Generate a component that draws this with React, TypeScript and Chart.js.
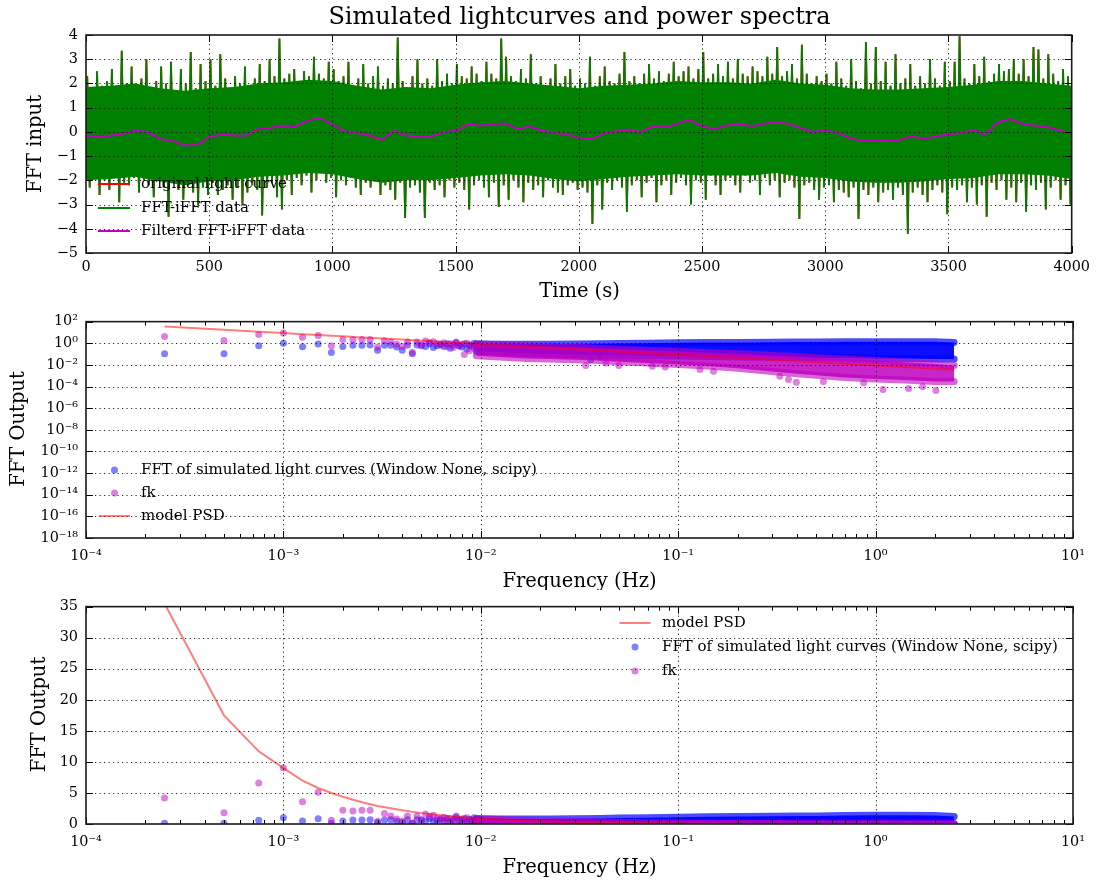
import React, { useEffect, useRef } from 'react';
import { Chart, registerables } from 'chart.js';

Chart.register(...registerables);

const FONT = "'DejaVu Serif', 'Liberation Serif', serif";
Chart.defaults.font.family = FONT;
Chart.defaults.color = '#000';

// ---------------- top panel: light curves ----------------
const BIN_SECONDS = 20; // each bin holds one local maximum and one local minimum
const LC_UPPER = [
  2.3, 1.8, 2.5, 1.9, 2.1, 2.6, 1.7, 3.35, 2.0, 2.7,
  1.9, 2.2, 3.0, 1.8, 2.1, 2.7, 2.0, 2.9, 1.7, 2.6,
  2.0, 3.3, 1.8, 2.8, 2.1, 3.0, 1.9, 3.2, 2.2, 1.8,
  2.3, 2.0, 2.7, 1.9, 2.2, 2.8, 2.1, 3.0, 2.3, 3.85,
  2.2, 2.4, 2.6, 2.0, 2.5, 2.3, 3.1, 2.4, 2.2, 2.9,
  2.6, 2.1, 2.3, 2.9, 1.9, 2.2, 2.8, 2.0, 2.3, 2.7,
  1.9, 2.2, 2.0, 3.9, 2.1, 1.8, 2.3, 3.0, 2.0, 2.2,
  1.9, 3.0, 2.1, 2.4, 2.0, 2.8, 2.3, 2.2, 2.7, 2.4,
  2.1, 2.9, 2.4, 2.2, 3.85, 3.1, 2.3, 2.1, 2.6, 2.2,
  3.2, 2.0, 2.3, 1.9, 2.2, 2.8, 2.0, 2.3, 2.6, 1.9,
  2.2, 2.0, 3.1, 1.9, 2.3, 2.7, 2.1, 2.0, 2.4, 3.3,
  2.1, 2.3, 2.0, 2.4, 2.8, 2.2, 2.5, 2.1, 2.4, 2.9,
  2.3, 2.5, 2.7, 2.2, 2.6, 3.3, 2.2, 2.4, 2.8, 2.3,
  2.9, 2.2, 3.0, 2.4, 2.3, 2.7, 2.5, 2.3, 3.1, 2.4,
  3.5, 2.3, 2.5, 2.8, 2.2, 3.6, 2.4, 2.0, 2.3, 2.1,
  2.4, 2.0, 2.9, 2.2, 1.9, 3.0, 2.1, 1.8, 3.7, 2.0,
  3.5, 2.1, 2.9, 1.9, 3.2, 2.0, 2.2, 2.8, 1.9, 2.3,
  2.0, 3.0, 2.2, 1.9, 2.9, 2.1, 2.9, 3.95, 2.2, 2.0,
  2.8, 2.3, 3.1, 2.1, 2.4, 2.8, 2.5, 2.6, 3.0, 2.4,
  3.0, 2.3, 3.5, 3.4, 2.2, 3.2, 2.4, 2.1, 2.6, 2.3,
];
const LC_LOWER = [
  -2.3, -1.9, -2.6, -2.0, -2.4, -1.8, -2.9, -2.1, -2.2, -1.9,
  -2.5, -2.0, -2.2, -2.7, -1.9, -2.3, -3.5, -2.1, -2.4, -2.8,
  -2.2, -2.5, -3.0, -2.3, -2.6, -2.1, -2.6, -2.4, -2.2, -2.8,
  -2.3, -3.0, -2.5, -2.2, -2.4, -3.45, -2.3, -2.1, -2.7, -3.2,
  -2.0, -2.6, -1.9, -2.2, -1.8, -2.5, -2.0, -1.7, -2.1, -1.9,
  -2.7, -2.0, -2.2, -1.9, -2.3, -2.6, -2.1, -2.3, -2.0, -2.6,
  -2.2, -2.4, -2.8, -2.1, -3.55, -2.3, -2.2, -2.5, -3.55, -2.1,
  -2.4, -2.2, -2.7, -2.0, -2.3, -2.1, -2.4, -3.2, -2.2, -2.0,
  -2.3, -2.7, -2.1, -3.1, -2.2, -2.8, -2.0, -2.3, -2.9, -2.1,
  -2.4, -2.2, -2.7, -2.0, -2.3, -2.5, -2.6, -2.2, -2.1, -2.4,
  -2.3, -2.5, -3.8, -2.2, -3.2, -2.1, -2.4, -2.0, -2.3, -3.3,
  -2.2, -2.0, -2.7, -2.1, -1.9, -2.9, -2.2, -2.0, -2.6, -2.1,
  -1.9, -2.2, -3.0, -2.0, -2.1, -2.8, -1.8, -2.2, -2.6, -2.0,
  -1.9, -2.2, -2.5, -1.8, -2.1, -2.0, -2.6, -1.9, -2.2, -2.0,
  -2.7, -2.1, -2.0, -2.3, -3.6, -2.2, -2.1, -2.4, -2.8, -2.3,
  -2.2, -2.9, -2.4, -2.5, -2.7, -2.3, -3.6, -2.4, -2.6, -2.3,
  -2.9, -2.5, -2.4, -2.8, -2.3, -2.6, -4.2, -2.5, -2.3, -2.6,
  -2.9, -2.4, -2.2, -2.5, -3.4, -2.3, -2.4, -2.2, -2.9, -2.3,
  -3.0, -2.2, -3.5, -2.1, -2.4, -2.0, -2.8, -2.3, -2.9, -2.1,
  -3.3, -2.2, -2.4, -2.1, -3.2, -2.3, -2.0, -2.8, -2.2, -3.0,
];
// edge of the solid (densely sampled) core of the light curve, every 100 s
const CORE_STEP = 100;
const CORE_UP = [1.85, 1.9, 2.0, 1.8, 1.7, 1.8, 1.85, 2.0, 2.05, 2.15, 2.1, 1.9, 1.75, 1.85, 1.8, 1.95, 2.05, 2.1, 2.0, 1.9,
  1.8, 1.9, 1.95, 2.0, 2.1, 2.05, 2.05, 2.0, 2.15, 2.0, 1.95, 1.8, 1.75, 1.75, 1.8, 1.85, 1.95, 2.1, 2.1, 2.0, 1.9];
const CORE_LO = [-2.0, -1.95, -1.85, -2.05, -2.2, -2.05, -2.0, -1.85, -1.8, -1.7, -1.75, -1.95, -2.1, -2.0, -2.0, -1.9, -1.8, -1.75, -1.8, -1.95,
  -2.05, -1.95, -1.85, -1.8, -1.75, -1.8, -1.8, -1.8, -1.7, -1.85, -1.9, -2.05, -2.1, -2.1, -2.05, -1.95, -1.9, -1.75, -1.75, -1.8, -1.95];
const FILT_STEP = 50;
const FILTERED = [
  -0.15, -0.22, -0.15, -0.08, 0.05, 0.0, -0.29, -0.36, -0.56, -0.54,
  -0.22, -0.11, -0.15, -0.15, 0.12, 0.17, 0.26, 0.22, 0.47, 0.58,
  0.3, 0.03, -0.05, -0.15, -0.33, 0.05, -0.15, -0.22, -0.19, -0.01,
  0.05, 0.3, 0.26, 0.3, 0.36, 0.12, 0.22, 0.05, -0.04, -0.1,
  -0.25, -0.3, -0.07, 0.03, 0.1, -0.01, 0.23, 0.2, 0.34, 0.5,
  0.23, 0.12, 0.26, 0.34, 0.23, 0.34, 0.4, 0.34, 0.16, 0.0,
  0.07, -0.04, -0.25, -0.38, -0.38, -0.38, -0.34, -0.18, -0.29, -0.18,
  -0.11, -0.04, 0.07, -0.11, 0.4, 0.53, 0.34, 0.26, 0.2, 0.07,
  -0.07,
];
const TIME_TICKS = [0, 500, 1000, 1500, 2000, 2500, 3000, 3500, 4000];
const INPUT_TICKS = [-5, -4, -3, -2, -1, 0, 1, 2, 3, 4];

// ---------------- spectra ----------------
const LOW_FREQ = [0.00025, 0.0005, 0.00075, 0.001, 0.00125, 0.0015, 0.00175, 0.002, 0.00225, 0.0025,
  0.00275, 0.003, 0.00325, 0.0035, 0.00375, 0.004, 0.00425, 0.0045, 0.00475, 0.005,
  0.00525, 0.0055, 0.00575, 0.006, 0.00625, 0.0065, 0.00675, 0.007, 0.00725, 0.0075,
  0.00775, 0.008, 0.00825, 0.0085, 0.00875, 0.009, 0.00925, 0.0095, 0.00975, 0.01];
const FFT_LOW = [0.11, 0.11, 0.6, 1.0, 0.48, 0.85, 0.14, 0.5, 0.65, 0.65,
  0.7, 0.23, 0.65, 0.67, 0.45, 0.23, 0.67, 0.11, 0.7, 0.67,
  0.5, 0.9, 0.4, 0.6, 0.8, 0.5, 0.9, 0.35, 0.7, 1.1,
  0.6, 0.45, 0.9, 0.3, 0.75, 0.6, 1.0, 0.5, 0.8, 0.4];
const FK_LOW = [4.2, 1.8, 6.6, 9.0, 3.6, 5.1, 0.6, 2.2, 2.1, 2.2,
  2.2, 0.45, 1.7, 1.3, 0.8, 0.5, 1.3, 0.15, 1.3, 0.6,
  1.6, 1.2, 1.4, 0.9, 0.7, 1.1, 0.5, 0.9, 0.4, 1.3,
  0.6, 0.8, 0.09, 1.0, 0.2, 0.55, 0.35, 0.7, 0.45, 0.6];
const FK_OUT_FREQ = [0.034, 0.043, 0.05, 0.074, 0.086, 0.129, 0.151, 0.327, 0.362, 0.397, 0.544, 0.87, 1.09, 1.47, 1.73, 2.02];
const FK_OUT_VAL = [0.009, 0.015, 0.009, 0.0074, 0.0063, 0.0037, 0.0026, 0.0009, 0.00045, 0.00025, 0.0003, 0.00022, 0.000054, 0.000066, 0.0001, 0.000044];
const FFT_OUT_FREQ = [0.036, 0.04];
const FFT_OUT_VAL = [0.03, 0.05];
// dense high-frequency region: envelope of the overlapping markers
const BAND_FREQ = [0.0095, 0.013, 0.017, 0.022, 0.03, 0.04, 0.05, 0.07, 0.1, 0.14, 0.2, 0.3, 0.4, 0.5, 0.7, 1.0, 1.4, 2.0, 2.5];
const FFT_TOP = [0.85, 0.8, 0.8, 0.8, 0.85, 0.9, 0.95, 1.0, 1.1, 1.15, 1.2, 1.25, 1.3, 1.3, 1.35, 1.4, 1.4, 1.35, 1.2];
const FFT_BOT = [0.18, 0.15, 0.12, 0.1, 0.09, 0.08, 0.075, 0.07, 0.065, 0.06, 0.055, 0.05, 0.05, 0.045, 0.045, 0.04, 0.04, 0.035, 0.035];
const FK_TOP = [0.85, 0.7, 0.6, 0.5, 0.42, 0.33, 0.28, 0.22, 0.17, 0.13, 0.11, 0.075, 0.06, 0.045, 0.035, 0.025, 0.018, 0.012, 0.009];
const FK_BOT = [0.07, 0.05, 0.04, 0.035, 0.03, 0.025, 0.02, 0.015, 0.011, 0.008, 0.005, 0.0025, 0.0015, 0.0011, 0.0007, 0.0005, 0.0004, 0.0003, 0.0003];
const MODEL_FREQ = [0.00025, 0.0005, 0.00075, 0.001, 0.00125, 0.0015, 0.00175, 0.002, 0.0025, 0.003, 0.004, 0.005, 0.007, 0.01, 0.02, 0.05, 0.1, 0.2, 0.5, 1.0, 2.5];
const MODEL_PSD = [35.5, 17.5, 11.7, 9.0, 7.0, 5.8, 5.0, 4.4, 3.5, 2.9, 2.2, 1.75, 1.25, 0.88, 0.44, 0.176, 0.088, 0.044, 0.0176, 0.0088, 0.0036];
const FREQ_TICKS = [1e-4, 1e-3, 1e-2, 1e-1, 1, 10];
const LOG_OUT_TICKS = [1e-18, 1e-16, 1e-14, 1e-12, 1e-10, 1e-8, 1e-6, 1e-4, 1e-2, 1, 1e2];
const LIN_OUT_TICKS = [0, 5, 10, 15, 20, 25, 30, 35];

// ---------------- colours ----------------
const RED = '#ff0000';
const GREEN = '#008000';
const MAG = '#bf00bf';
const BLUE_DOT = 'rgba(0,0,255,0.5)';
const MAG_DOT = 'rgba(191,0,191,0.5)';
const MODEL_COL = 'rgba(255,0,0,0.5)';

const SUP: Record<string, string> = { '0': '⁰', '1': '¹', '2': '²', '3': '³', '4': '⁴', '5': '⁵', '6': '⁶', '7': '⁷', '8': '⁸', '9': '⁹', '-': '⁻' };
const powLabel = (v: number) => '10' + String(Math.round(Math.log10(v))).split('').map((c) => SUP[c] ?? c).join('');
const linLabel = (v: number) => (v < 0 ? '\u2212' + Math.abs(v) : String(v));
const logMinor = (lo: number, hi: number) => {
  const out: number[] = [];
  for (let e = lo; e < hi; e++) for (let m = 2; m <= 9; m++) out.push(m * Math.pow(10, e));
  return out;
};
const zip = (xs: number[], ys: number[]) => xs.map((x, i) => ({ x, y: ys[i] }));

const lcPoints = () => {
  const pts: { x: number; y: number }[] = [];
  LC_UPPER.forEach((u, i) => {
    pts.push({ x: i * BIN_SECONDS + BIN_SECONDS / 4, y: u });
    pts.push({ x: i * BIN_SECONDS + (3 * BIN_SECONDS) / 4, y: LC_LOWER[i] });
  });
  return pts;
};
const stepPoints = (vals: number[], step: number) => vals.map((y, i) => ({ x: i * step, y }));

function axis(type: string, min: number, max: number, ticks: number[], label: (v: number) => string, isX: boolean, size: number, padding: number) {
  return {
    type,
    min,
    max,
    grid: { display: false, drawTicks: false },
    border: { display: false },
    ticks: {
      autoSkip: false,
      maxRotation: 0,
      minRotation: 0,
      padding,
      color: '#000',
      font: { family: FONT, size: 14.4 },
      callback: (v: any) => label(Number(v)),
    },
    afterBuildTicks: (s: any) => {
      s.ticks = ticks.map((v) => ({ value: v }));
    },
    afterFit: (s: any) => {
      if (isX) s.height = size;
      else s.width = size;
    },
  };
}

type Row = { kind: 'line' | 'dot'; color: string; label: string };
type Decor = {
  xMajor: number[];
  xMinor: number[];
  yMajor: number[];
  title?: { text: string; x: number; y: number };
  xLabel: { text: string; x: number; y: number };
  yLabel: { text: string; x: number; y: number };
  legend: { rows: Row[]; x1: number; x2: number; textX: number; ys: number[] };
};

function decorPlugin(d: Decor) {
  return {
    id: 'decor',
    afterDatasetsDraw(chart: any) {
      const { ctx, chartArea: ca } = chart;
      const xs = chart.scales.x;
      const ys = chart.scales.y;
      ctx.save();
      ctx.beginPath();
      ctx.setLineDash([1.2, 3.3]);
      ctx.lineWidth = 1;
      ctx.strokeStyle = 'rgba(0,0,0,0.85)';
      d.xMajor.forEach((v) => {
        const p = Math.round(xs.getPixelForValue(v)) + 0.5;
        if (p > ca.left + 1 && p < ca.right - 1) {
          ctx.moveTo(p, ca.top);
          ctx.lineTo(p, ca.bottom);
        }
      });
      d.yMajor.forEach((v) => {
        const p = Math.round(ys.getPixelForValue(v)) + 0.5;
        if (p > ca.top + 1 && p < ca.bottom - 1) {
          ctx.moveTo(ca.left, p);
          ctx.lineTo(ca.right, p);
        }
      });
      ctx.stroke();
      ctx.setLineDash([]);
      ctx.beginPath();
      ctx.lineWidth = 1;
      ctx.strokeStyle = '#000';
      const xt = (v: number, len: number) => {
        const p = Math.round(xs.getPixelForValue(v)) + 0.5;
        ctx.moveTo(p, ca.bottom);
        ctx.lineTo(p, ca.bottom - len);
        ctx.moveTo(p, ca.top);
        ctx.lineTo(p, ca.top + len);
      };
      d.xMajor.forEach((v) => xt(v, 7));
      d.xMinor.forEach((v) => xt(v, 4));
      d.yMajor.forEach((v) => {
        const p = Math.round(ys.getPixelForValue(v)) + 0.5;
        ctx.moveTo(ca.left, p);
        ctx.lineTo(ca.left + 7, p);
        ctx.moveTo(ca.right, p);
        ctx.lineTo(ca.right - 7, p);
      });
      ctx.stroke();
      ctx.lineWidth = 1.6;
      ctx.strokeStyle = '#1a1a1a';
      ctx.strokeRect(ca.left, ca.top, ca.right - ca.left, ca.bottom - ca.top);
      ctx.restore();
    },
    afterDraw(chart: any) {
      const { ctx } = chart;
      ctx.save();
      ctx.fillStyle = '#000';
      ctx.textBaseline = 'middle';
      if (d.title) {
        ctx.font = `24px ${FONT}`;
        ctx.textAlign = 'center';
        ctx.fillText(d.title.text, d.title.x, d.title.y);
      }
      ctx.font = `19.5px ${FONT}`;
      ctx.textAlign = 'center';
      ctx.fillText(d.xLabel.text, d.xLabel.x, d.xLabel.y);
      ctx.save();
      ctx.translate(d.yLabel.x, d.yLabel.y);
      ctx.rotate(-Math.PI / 2);
      ctx.fillText(d.yLabel.text, 0, 0);
      ctx.restore();
      const L = d.legend;
      ctx.font = `15px ${FONT}`;
      ctx.textAlign = 'left';
      L.rows.forEach((r, i) => {
        const y = L.ys[i];
        if (r.kind === 'line') {
          ctx.strokeStyle = r.color;
          ctx.lineWidth = 2;
          ctx.beginPath();
          ctx.moveTo(L.x1, y);
          ctx.lineTo(L.x2, y);
          ctx.stroke();
        } else {
          ctx.fillStyle = r.color;
          ctx.beginPath();
          ctx.arc((L.x1 + L.x2) / 2, y, 3.5, 0, Math.PI * 2);
          ctx.fill();
        }
        ctx.fillStyle = '#000';
        ctx.fillText(r.label, L.textX, y);
      });
      ctx.restore();
    },
  };
}

function band(label: string, ys: number[], edge: string, fillColor: string | null, order: number) {
  return {
    label,
    data: zip(BAND_FREQ, ys),
    borderColor: edge,
    backgroundColor: fillColor ?? edge,
    borderWidth: 7,
    borderCapStyle: 'round',
    borderJoinStyle: 'round',
    fill: fillColor ? '+1' : false,
    pointRadius: 0,
    order,
    clip: 0,
  };
}

function spectrumDatasets() {
  return [
    { label: 'model PSD', data: zip(MODEL_FREQ, MODEL_PSD), borderColor: MODEL_COL, borderWidth: 2, pointRadius: 0, order: 0, clip: 0 },
    {
      label: 'fk',
      data: zip(LOW_FREQ, FK_LOW).concat(zip(FK_OUT_FREQ, FK_OUT_VAL)),
      showLine: false,
      pointRadius: 3.5,
      pointBackgroundColor: MAG_DOT,
      pointBorderWidth: 0,
      order: 1,
      clip: 0,
    },
    band('fk top', FK_TOP, 'rgba(191,0,191,0.6)', 'rgba(191,0,191,0.85)', 2),
    band('fk bottom', FK_BOT, 'rgba(191,0,191,0.6)', null, 2),
    {
      label: 'FFT',
      data: zip(LOW_FREQ, FFT_LOW).concat(zip(FFT_OUT_FREQ, FFT_OUT_VAL)),
      showLine: false,
      pointRadius: 3.5,
      pointBackgroundColor: BLUE_DOT,
      pointBorderWidth: 0,
      order: 3,
      clip: 0,
    },
    band('FFT top', FFT_TOP, 'rgba(0,0,255,0.7)', 'rgba(0,0,255,0.95)', 4),
    band('FFT bottom', FFT_BOT, 'rgba(0,0,255,0.7)', null, 4),
  ];
}

const baseOptions = (top: number, scales: any) => ({
  responsive: false,
  animation: false,
  devicePixelRatio: 1,
  events: [],
  layout: { padding: { left: 0, right: 23, top, bottom: 0 } },
  plugins: { legend: { display: false }, tooltip: { enabled: false }, title: { display: false } },
  scales,
});

export default function App() {
  const c1 = useRef<HTMLCanvasElement>(null);
  const c2 = useRef<HTMLCanvasElement>(null);
  const c3 = useRef<HTMLCanvasElement>(null);

  useEffect(() => {
    const charts: Chart[] = [];
    const lc = lcPoints();

    charts.push(
      new Chart(c1.current as HTMLCanvasElement, {
        type: 'line',
        data: {
          datasets: [
            { label: 'original light curve', data: lc.map((p) => ({ ...p })), borderColor: RED, borderWidth: 1.8, pointRadius: 0, borderJoinStyle: 'bevel', order: 3, clip: 0 } as any,
            { label: 'core top', data: stepPoints(CORE_UP, CORE_STEP), borderWidth: 0, borderColor: GREEN, backgroundColor: GREEN, fill: '+1', pointRadius: 0, order: 2, clip: 0 } as any,
            { label: 'core bottom', data: stepPoints(CORE_LO, CORE_STEP), borderWidth: 0, borderColor: GREEN, pointRadius: 0, order: 2, clip: 0 } as any,
            { label: 'FFT-iFFT data', data: lc.map((p) => ({ ...p })), borderColor: GREEN, borderWidth: 1.8, pointRadius: 0, borderJoinStyle: 'bevel', order: 1, clip: 0 } as any,
            { label: 'Filterd FFT-iFFT data', data: stepPoints(FILTERED, FILT_STEP), borderColor: MAG, borderWidth: 2, pointRadius: 0, order: 0, clip: 0 } as any,
          ],
        },
        options: baseOptions(35, {
          x: axis('linear', 0, 4000, TIME_TICKS, linLabel, true, 52, 6),
          y: axis('linear', -5, 4, INPUT_TICKS, linLabel, false, 86, 8),
        }) as any,
        plugins: [
          decorPlugin({
            xMajor: TIME_TICKS,
            xMinor: [],
            yMajor: INPUT_TICKS,
            title: { text: 'Simulated lightcurves and power spectra', x: 579.5, y: 18 },
            xLabel: { text: 'Time (s)', x: 579.5, y: 292 },
            yLabel: { text: 'FFT input', x: 36, y: 144 },
            legend: {
              rows: [
                { kind: 'line', color: RED, label: 'original light curve' },
                { kind: 'line', color: GREEN, label: 'FFT-iFFT data' },
                { kind: 'line', color: MAG, label: 'Filterd FFT-iFFT data' },
              ],
              x1: 98,
              x2: 130,
              textX: 141,
              ys: [184, 208, 231],
            },
          }) as any,
        ],
      })
    );

    charts.push(
      new Chart(c2.current as HTMLCanvasElement, {
        type: 'line',
        data: { datasets: spectrumDatasets() as any },
        options: baseOptions(15, {
          x: axis('logarithmic', 1e-4, 10, FREQ_TICKS, powLabel, true, 52, 10),
          y: axis('logarithmic', 1e-18, 1e2, LOG_OUT_TICKS, powLabel, false, 86, 8),
        }) as any,
        plugins: [
          decorPlugin({
            xMajor: FREQ_TICKS,
            xMinor: logMinor(-4, 1),
            yMajor: LOG_OUT_TICKS,
            xLabel: { text: 'Frequency (Hz)', x: 579.5, y: 277 },
            yLabel: { text: 'FFT Output', x: 18.5, y: 124 },
            legend: {
              rows: [
                { kind: 'dot', color: BLUE_DOT, label: 'FFT of simulated light curves (Window None, scipy)' },
                { kind: 'dot', color: MAG_DOT, label: 'fk' },
                { kind: 'line', color: MODEL_COL, label: 'model PSD' },
              ],
              x1: 99,
              x2: 130,
              textX: 141,
              ys: [165, 188, 211],
            },
          }) as any,
        ],
      })
    );

    charts.push(
      new Chart(c3.current as HTMLCanvasElement, {
        type: 'line',
        data: { datasets: spectrumDatasets() as any },
        options: baseOptions(15, {
          x: axis('logarithmic', 1e-4, 10, FREQ_TICKS, powLabel, true, 59, 10),
          y: axis('linear', 0, 35, LIN_OUT_TICKS, linLabel, false, 86, 8),
        }) as any,
        plugins: [
          decorPlugin({
            xMajor: FREQ_TICKS,
            xMinor: logMinor(-4, 1),
            yMajor: LIN_OUT_TICKS,
            xLabel: { text: 'Frequency (Hz)', x: 579.5, y: 278 },
            yLabel: { text: 'FFT Output', x: 39.5, y: 124.5 },
            legend: {
              rows: [
                { kind: 'line', color: MODEL_COL, label: 'model PSD' },
                { kind: 'dot', color: BLUE_DOT, label: 'FFT of simulated light curves (Window None, scipy)' },
                { kind: 'dot', color: MAG_DOT, label: 'fk' },
              ],
              x1: 619.5,
              x2: 650.5,
              textX: 662,
              ys: [33, 57, 81],
            },
          }) as any,
        ],
      })
    );

    return () => charts.forEach((c) => c.destroy());
  }, []);

  const cs = (top: number, h: number): React.CSSProperties => ({ position: 'absolute', left: 0, top, width: 1096, height: h, display: 'block' });

  return (
    <div style={{ position: 'absolute', left: 0, top: 0, width: 1096, height: 883, background: '#fff', overflow: 'hidden' }}>
      <canvas ref={c1} width={1096} height={305} style={cs(0, 305)} />
      <canvas ref={c2} width={1096} height={285} style={cs(305, 285)} />
      <canvas ref={c3} width={1096} height={293} style={cs(590, 293)} />
    </div>
  );
}
